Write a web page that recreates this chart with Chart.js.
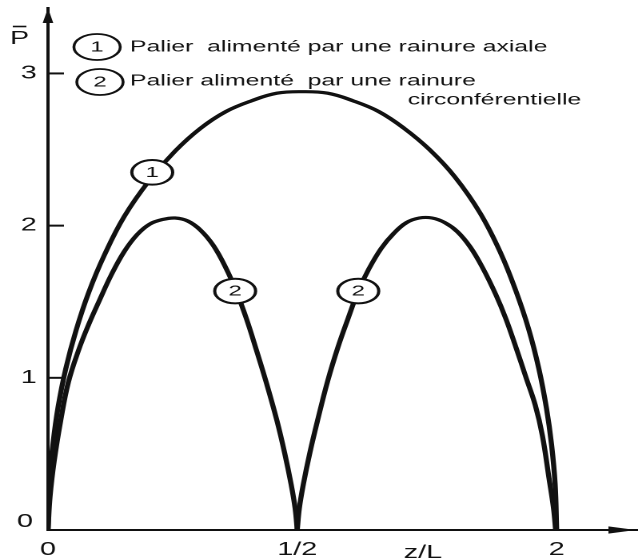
<!DOCTYPE html>
<html>
<head>
<meta charset="utf-8">
<script src="https://cdn.jsdelivr.net/npm/chart.js@4.4.1/dist/chart.umd.min.js"></script>
<style>
  html, body { margin: 0; padding: 0; background: #fff; overflow: hidden; }
  /* the figure is drawn narrow and widened horizontally */
  #wrap { position: absolute; left: 0; top: 0; width: 399px; height: 560px;
          transform: scaleX(1.599); transform-origin: 0 0; }
</style>
</head>
<body>
<div id="wrap"><canvas id="c" width="399" height="560"></canvas></div>
<script>
// Curve 1 : bearing fed by an axial groove
const axialZ = [0, 0.003, 0.01, 0.02, 0.035, 0.055, 0.08, 0.11, 0.15, 0.2, 0.25, 0.3, 0.35, 0.4, 0.45, 0.5, 0.55, 0.6, 0.65, 0.7, 0.75, 0.8, 0.85, 0.89, 0.92, 0.945, 0.965, 0.98, 0.99, 0.997, 1];
const axialP = [0, 0.32, 0.57, 0.81, 1.06, 1.31, 1.56, 1.8, 2.06, 2.3, 2.49, 2.64, 2.75, 2.82, 2.87, 2.88, 2.87, 2.82, 2.75, 2.64, 2.5, 2.32, 2.08, 1.82, 1.57, 1.32, 1.06, 0.8, 0.56, 0.3, 0];

// Curve 2 : bearing fed by a circumferential groove (two lobes)
const circLeftZ = [0, 0.004, 0.012, 0.025, 0.04, 0.06, 0.08, 0.1, 0.125, 0.15, 0.175, 0.2, 0.225, 0.25, 0.275, 0.3, 0.325, 0.35, 0.37, 0.39, 0.41, 0.43, 0.45, 0.465, 0.478, 0.486, 0.49];
const circLeftP = [0, 0.22, 0.45, 0.72, 0.97, 1.18, 1.35, 1.5, 1.68, 1.83, 1.94, 2.01, 2.04, 2.05, 2.03, 1.97, 1.87, 1.72, 1.57, 1.39, 1.18, 0.96, 0.72, 0.51, 0.3, 0.14, 0];
const circRightZ = [0.49, 0.494, 0.502, 0.515, 0.53, 0.55, 0.57, 0.59, 0.61, 0.63, 0.655, 0.68, 0.705, 0.73, 0.755, 0.78, 0.805, 0.83, 0.855, 0.88, 0.9, 0.92, 0.94, 0.958, 0.972, 0.985, 0.994, 0.998];
const circRightP = [0, 0.14, 0.3, 0.51, 0.72, 0.98, 1.2, 1.39, 1.57, 1.71, 1.85, 1.95, 2.02, 2.05, 2.05, 2.02, 1.96, 1.86, 1.72, 1.55, 1.39, 1.2, 1.0, 0.82, 0.62, 0.34, 0.14, 0];

// Axis ticks
const xTickValues = [0, 0.49, 1];
const xTickLabels = ['0', '1/2', '2'];
const yTickValues = [0, 1, 2, 3];

// Key and curve tags
const legendNumbers = ['1', '2'];
const legendLines = ['Palier  alimenté par une rainure axiale', 'Palier alimenté  par une rainure', 'circonférentielle'];
const tagText = ['1', '2', '2'];
const tagZ = [0.205, 0.368, 0.61];
const tagP = [2.35, 1.57, 1.57];

const FONT = '"Liberation Sans", Arial, Helvetica, sans-serif';
const INK = '#111';

const toPts = (xs, ys) => xs.map((x, i) => ({ x, y: ys[i] }));

const lineStyle = {
  borderColor: INK, borderWidth: 3.2, pointRadius: 0, showLine: true,
  fill: false, tension: 0.4, cubicInterpolationMode: 'default'
};

const decorations = {
  id: 'decorations',
  afterDatasetsDraw(chart) {
    const { ctx, chartArea: a, scales: { x, y } } = chart;
    ctx.save();
    ctx.fillStyle = INK;
    ctx.strokeStyle = INK;

    // arrow heads
    const x0 = x.getPixelForValue(0);
    const y0 = y.getPixelForValue(0);
    ctx.beginPath();
    ctx.moveTo(x0, a.top);
    ctx.lineTo(x0 - 3.3, a.top + 15);
    ctx.lineTo(x0 + 3.3, a.top + 15);
    ctx.closePath();
    ctx.fill();
    ctx.beginPath();
    ctx.moveTo(a.right - 1.5, y0);
    ctx.lineTo(a.right - 18.5, y0 - 3.6);
    ctx.lineTo(a.right - 18.5, y0 + 3.6);
    ctx.closePath();
    ctx.fill();

    // inner tick marks on the vertical axis
    ctx.lineWidth = 2;
    yTickValues.filter(v => v > 0).forEach(v => {
      const py = y.getPixelForValue(v);
      ctx.beginPath();
      ctx.moveTo(x0, py);
      ctx.lineTo(x0 + 10, py);
      ctx.stroke();
    });

    // origin label and axis names
    ctx.font = '18px ' + FONT;
    ctx.textAlign = 'center';
    ctx.textBaseline = 'middle';
    ctx.fillText('0', 15.6, y0 - 8);
    ctx.fillText('z/L', 264.5, y0 + 23);
    ctx.fillText('P', 12.2, 39);
    ctx.lineWidth = 1.6;
    ctx.beginPath();
    ctx.moveTo(8, 26.5);
    ctx.lineTo(16.5, 26.5);
    ctx.stroke();

    // key
    ctx.lineWidth = 1.8;
    const keyY = [47, 82];
    const keyX = [60.7, 62.5];
    legendNumbers.forEach((n, i) => {
      ctx.beginPath();
      ctx.ellipse(keyX[i], keyY[i], 14.5, 13, 0, 0, Math.PI * 2);
      ctx.stroke();
      ctx.font = '15px ' + FONT;
      ctx.textAlign = 'center';
      ctx.fillText(n, keyX[i], keyY[i] + 0.5);
    });
    ctx.font = '15.5px ' + FONT;
    ctx.textAlign = 'left';
    ctx.fillText(legendLines[0], 81.3, 47);
    ctx.fillText(legendLines[1], 81.3, 81);
    ctx.fillText(legendLines[2], 255, 100);

    // curve tags
    ctx.lineWidth = 2;
    tagText.forEach((t, i) => {
      const px = x.getPixelForValue(tagZ[i]);
      const py = y.getPixelForValue(tagP[i]);
      ctx.beginPath();
      ctx.ellipse(px, py, 12.8, 12.3, 0, 0, Math.PI * 2);
      ctx.fillStyle = '#fff';
      ctx.fill();
      ctx.stroke();
      ctx.fillStyle = INK;
      ctx.font = '15px ' + FONT;
      ctx.textAlign = 'center';
      ctx.fillText(t, px, py + 0.5);
    });
    ctx.restore();
  }
};

new Chart(document.getElementById('c'), {
  type: 'scatter',
  data: {
    datasets: [
      { label: '1', data: toPts(axialZ, axialP), ...lineStyle },
      { label: '2', data: toPts(circLeftZ, circLeftP), ...lineStyle },
      { label: '2b', data: toPts(circRightZ, circRightP), ...lineStyle }
    ]
  },
  options: {
    responsive: false,
    animation: false,
    devicePixelRatio: 2,
    layout: { padding: { top: 8, right: 0, left: 0, bottom: 0 } },
    plugins: { legend: { display: false }, tooltip: { enabled: false } },
    scales: {
      x: {
        type: 'linear', min: 0, max: 1.16,
        afterBuildTicks: s => { s.ticks = xTickValues.map(v => ({ value: v })); },
        afterFit: s => { s.height = 30; s.paddingLeft = 0; s.paddingRight = 0; },
        ticks: {
          autoSkip: false, maxRotation: 0, padding: 9, color: INK,
          font: { family: FONT, size: 18 },
          callback: (v, i) => xTickLabels[i]
        },
        grid: { display: false, drawTicks: false },
        border: { display: true, color: INK, width: 2 }
      },
      y: {
        type: 'linear', min: 0, max: 3.43,
        afterBuildTicks: s => { s.ticks = yTickValues.map(v => ({ value: v })); },
        afterFit: s => { s.width = 30; s.paddingTop = 0; s.paddingBottom = 0; },
        ticks: {
          autoSkip: false, padding: 7, color: INK,
          font: { family: FONT, size: 18 },
          callback: v => (v === 0 ? '' : String(v))
        },
        grid: { display: false, drawTicks: false },
        border: { display: true, color: INK, width: 2 }
      }
    }
  },
  plugins: [decorations]
});
</script>
</body>
</html>
